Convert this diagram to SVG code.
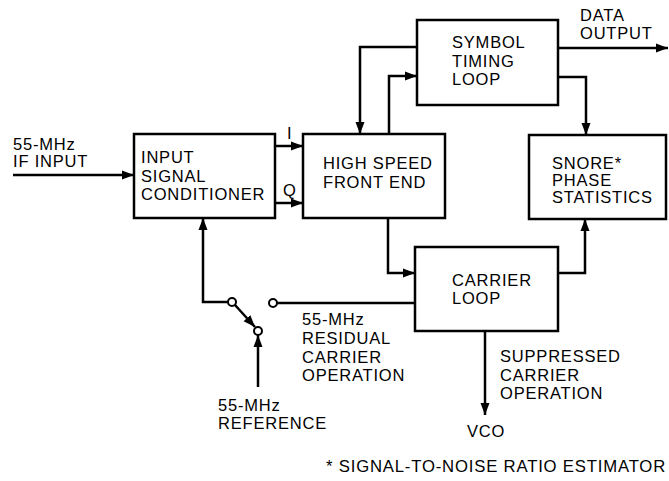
<svg xmlns="http://www.w3.org/2000/svg" width="669" height="481" viewBox="0 0 669 481">
<style>
.box{fill:#fff;stroke:#000;stroke-width:2.5}
.ln{fill:none;stroke:#000;stroke-width:2.5}
.arr{marker-end:url(#ah)}
.t{font-family:"Liberation Sans",Arial,sans-serif;font-size:16.5px;letter-spacing:0.8px;fill:#000}
.node{fill:#fff;stroke:#000;stroke-width:2}
</style>
<defs>
<marker id="ah" markerUnits="userSpaceOnUse" markerWidth="13" markerHeight="10" refX="12" refY="5" orient="auto">
<path d="M0,0.5 L12,5 L0,9.5 z" fill="#000"/>
</marker>
</defs>
<rect width="669" height="481" fill="#fff"/>
<g id="connectors">
<path class="ln arr" d="M13,175 H134"/>
<path class="ln arr" d="M275,146 H303"/>
<path class="ln arr" d="M275,203 H303"/>
<path class="ln arr" d="M417,47 H360 V134"/>
<path class="ln arr" d="M389,134 V76 H417"/>
<path class="ln arr" d="M558,48 H668"/>
<path class="ln arr" d="M558,77 H586 V135"/>
<path class="ln arr" d="M388,218 V273 H415"/>
<path class="ln arr" d="M558,273 H585 V219"/>
<path class="ln" d="M415,303 H277"/>
<path class="ln arr" d="M228,302 H203 V218"/>
<path class="ln arr" d="M235,305 L255,327"/>
<path class="ln arr" d="M258,387 V335"/>
<path class="ln arr" d="M485,331 V415"/>
<circle class="node" cx="232" cy="302" r="4"/>
<circle class="node" cx="273" cy="303" r="4"/>
<circle class="node" cx="258" cy="331" r="4"/>
</g>
<g id="input-signal-conditioner">
<rect class="box" x="134" y="134" width="141" height="84"/>
<text class="t" x="141" y="163">INPUT</text>
<text class="t" x="141" y="182">SIGNAL</text>
<text class="t" x="141" y="200">CONDITIONER</text>
</g>
<g id="high-speed-front-end">
<rect class="box" x="303" y="134" width="142" height="84"/>
<text class="t" x="323" y="169">HIGH SPEED</text>
<text class="t" x="323" y="188">FRONT END</text>
</g>
<g id="symbol-timing-loop">
<rect class="box" x="417" y="20" width="141" height="85"/>
<text class="t" x="452" y="48">SYMBOL</text>
<text class="t" x="452" y="67">TIMING</text>
<text class="t" x="452" y="85">LOOP</text>
</g>
<g id="snore-phase-statistics">
<rect class="box" x="529" y="135" width="137" height="84"/>
<text class="t" x="552" y="169">SNORE*</text>
<text class="t" x="552" y="186">PHASE</text>
<text class="t" x="552" y="203">STATISTICS</text>
</g>
<g id="carrier-loop">
<rect class="box" x="415" y="247" width="143" height="84"/>
<text class="t" x="452" y="286">CARRIER</text>
<text class="t" x="452" y="304">LOOP</text>
</g>
<g id="labels">
<text class="t" x="13" y="150">55-MHz</text>
<text class="t" x="13" y="167">IF INPUT</text>
<text class="t" x="287" y="139">I</text>
<text class="t" x="283" y="196">Q</text>
<text class="t" x="580" y="21">DATA</text>
<text class="t" x="580" y="39">OUTPUT</text>
<text class="t" x="302" y="325">55-MHz</text>
<text class="t" x="302" y="344">RESIDUAL</text>
<text class="t" x="302" y="363">CARRIER</text>
<text class="t" x="302" y="381">OPERATION</text>
<text class="t" x="218" y="411">55-MHz</text>
<text class="t" x="218" y="429">REFERENCE</text>
<text class="t" x="500" y="362">SUPPRESSED</text>
<text class="t" x="500" y="381">CARRIER</text>
<text class="t" x="500" y="399">OPERATION</text>
<text class="t" x="467" y="437">VCO</text>
<text class="t" x="326" y="472" textLength="340" lengthAdjust="spacingAndGlyphs">* SIGNAL-TO-NOISE RATIO ESTIMATOR</text>
</g>
</svg>
